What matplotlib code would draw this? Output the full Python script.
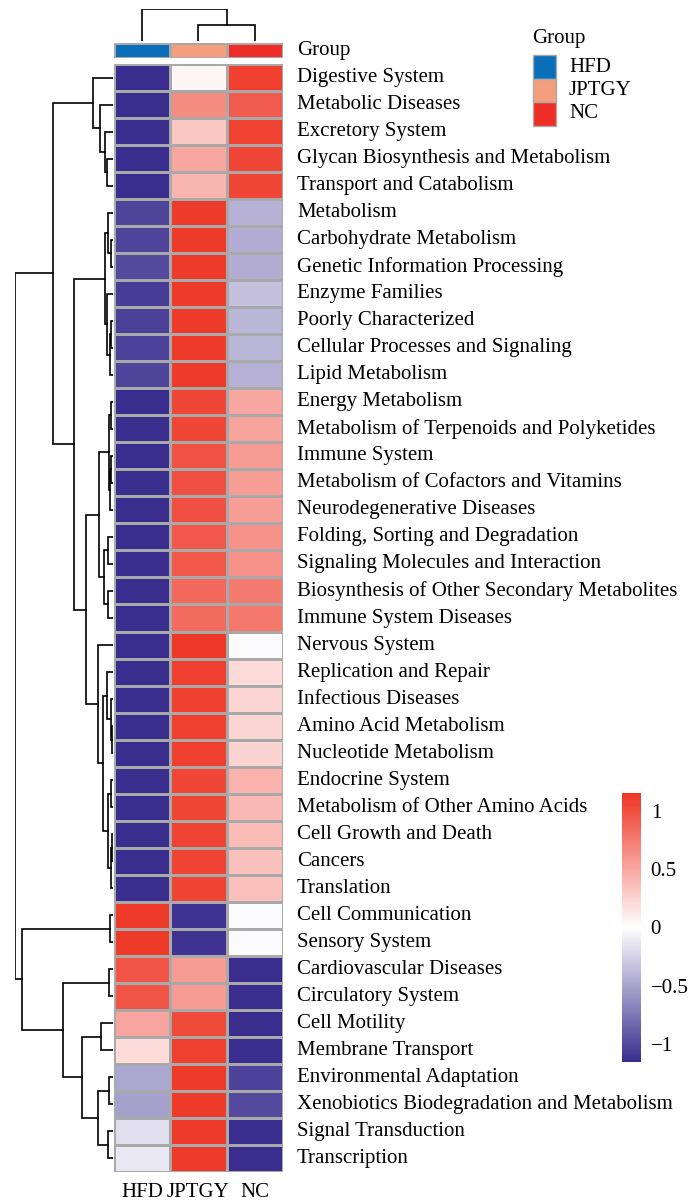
import matplotlib
matplotlib.use("Agg")
import matplotlib.pyplot as plt
import numpy as np
from matplotlib.colors import LinearSegmentedColormap, ListedColormap
from matplotlib.patches import Rectangle

plt.rcParams['font.family'] = ['Liberation Serif', 'DejaVu Serif']

groups = ["HFD", "JPTGY", "NC"]
group_colors = ["#0a6fb8", "#f59e7e", "#ee2e26"]

pathways = [
    "Digestive System", "Metabolic Diseases", "Excretory System",
    "Glycan Biosynthesis and Metabolism", "Transport and Catabolism",
    "Metabolism", "Carbohydrate Metabolism", "Genetic Information Processing",
    "Enzyme Families", "Poorly Characterized", "Cellular Processes and Signaling",
    "Lipid Metabolism", "Energy Metabolism", "Metabolism of Terpenoids and Polyketides",
    "Immune System", "Metabolism of Cofactors and Vitamins", "Neurodegenerative Diseases",
    "Folding, Sorting and Degradation", "Signaling Molecules and Interaction",
    "Biosynthesis of Other Secondary Metabolites", "Immune System Diseases",
    "Nervous System", "Replication and Repair", "Infectious Diseases",
    "Amino Acid Metabolism", "Nucleotide Metabolism", "Endocrine System",
    "Metabolism of Other Amino Acids", "Cell Growth and Death", "Cancers",
    "Translation", "Cell Communication", "Sensory System", "Cardiovascular Diseases",
    "Circulatory System", "Cell Motility", "Membrane Transport",
    "Environmental Adaptation", "Xenobiotics Biodegradation and Metabolism",
    "Signal Transduction", "Transcription",
]

hfd = [-1.15, -1.15, -1.15, -1.15, -1.15, -1.02, -1.02, -1.0, -1.06, -1.05, -1.04,
       -1.02, -1.15, -1.15, -1.15, -1.15, -1.15, -1.15, -1.15, -1.15, -1.15,
       -1.15, -1.15, -1.15, -1.15, -1.15, -1.15, -1.15, -1.15, -1.15, -1.15,
       1.12, 1.12, 0.97, 0.97, 0.51, 0.2, -0.48, -0.52, -0.18, -0.13]
jptgy = [0.05, 0.65, 0.32, 0.5, 0.42, 1.12, 1.12, 1.12, 1.12, 1.12, 1.12,
         1.12, 1.05, 1.05, 0.99, 1.0, 1.0, 0.95, 0.95, 0.86, 0.84,
         1.13, 1.1, 1.1, 1.1, 1.1, 1.05, 1.06, 1.07, 1.07, 1.07,
         -1.12, -1.12, 0.56, 0.56, 1.03, 1.1, 1.12, 1.12, 1.12, 1.12]
nc = [1.1, 0.93, 1.08, 1.05, 1.05, -0.43, -0.45, -0.45, -0.35, -0.4, -0.4,
      -0.43, 0.5, 0.52, 0.56, 0.55, 0.55, 0.62, 0.62, 0.75, 0.77,
      -0.02, 0.2, 0.24, 0.24, 0.25, 0.44, 0.4, 0.38, 0.36, 0.36,
      -0.02, -0.02, -1.15, -1.15, -1.15, -1.15, -1.03, -1.0, -1.15, -1.15]

# row tree: (left, right, height); leaves are row indices
rows_1_5 = (0, (1, (2, (3, 4, 6), 8), 13), 20)
rows_6_12 = ((5, (6, 7, 2), 5), (8, ((9, 10, 2), 11, 3), 6), 8)
rows_13_21 = (((12, 13, 2), ((14, 15, 2), 16, 3), 4), ((17, 18, 5), (19, 20, 5), 9), 14)
rows_22_31 = (21, ((22, (23, (24, 25, 1), 2), 6), ((26, 27, 2), ((28, 29, 1), 30, 2), 5), 10), 15)
rows_32_41 = ((31, 32, 3), ((33, 34, 4), ((35, 36, 12), ((37, 38, 4), (39, 40, 5), 15), 31), 50), 91)
row_tree = ((rows_1_5, (rows_6_12, (rows_13_21, rows_22_31, 27), 39), 60), rows_32_41, 98)
col_tree = (0, (1, 2, 16), 32)

W, H = 688, 1202
fig = plt.figure(figsize=(W / 100, H / 100), dpi=100)
FS = 15


def px_axes(x0, y0, x1, y1):
    return fig.add_axes([x0 / W, 1 - y1 / H, (x1 - x0) / W, (y1 - y0) / H])


cmap = LinearSegmentedColormap.from_list("bwr2", ["#3a2d8e", "#ffffff", "#ee3524"])
vlim = 1.155
data = np.array([hfd, jptgy, nc]).T
n = len(pathways)

# heatmap
ax = px_axes(114, 64, 283, 1172)
mesh = ax.pcolormesh(data, cmap=cmap, vmin=-vlim, vmax=vlim,
                     edgecolors="#a9a9a9", linewidth=1)
ax.set_xlim(0, 3)
ax.set_ylim(n, 0)
ax.axis("off")
for i, name in enumerate(pathways):
    ax.text(3.0 + 14 / 56.3, i + 0.5, name, va="center", ha="left", fontsize=FS)
for j, g in enumerate(groups):
    ax.text(j + 0.5, n + 0.75, g, ha="center", va="center", fontsize=FS)

# group annotation bar
axg = px_axes(114, 43, 283, 58)
axg.pcolormesh(np.arange(3)[None, :], cmap=ListedColormap(group_colors),
               vmin=-0.5, vmax=2.5, edgecolors="#a9a9a9", linewidth=1)
axg.set_xlim(0, 3)
axg.axis("off")
axg.text(3.0 + 14 / 56.3, 0.5, "Group", va="center", ha="left", fontsize=FS)


def draw_tree(node, axd, orient):
    # returns (position, height)
    if isinstance(node, int):
        return node + 0.5, 0
    left, right, h = node
    p1, h1 = draw_tree(left, axd, orient)
    p2, h2 = draw_tree(right, axd, orient)
    if orient == "left":
        axd.plot([h1, h, h, h2], [p1, p1, p2, p2], color="black", lw=1.2,
                 solid_joinstyle="miter")
    else:
        axd.plot([p1, p1, p2, p2], [h1, h, h, h2], color="black", lw=1.2,
                 solid_joinstyle="miter")
    return (p1 + p2) / 2, h


axl = px_axes(15, 64, 113, 1172)
draw_tree(row_tree, axl, "left")
axl.set_xlim(98, 0)
axl.set_ylim(n, 0)
axl.axis("off")

axt = px_axes(114, 9, 283, 41)
draw_tree(col_tree, axt, "top")
axt.set_xlim(0, 3)
axt.set_ylim(0, 32)
axt.axis("off")

# legend
axleg = px_axes(520, 20, 688, 130)
axleg.set_xlim(520, 688)
axleg.set_ylim(130, 20)
axleg.axis("off")
axleg.text(532, 39, "Group", ha="left", va="center", fontsize=FS)
for k, (g, c) in enumerate(zip(groups, group_colors)):
    y0 = 55 + k * 23.5
    axleg.add_patch(Rectangle((533, y0), 23, 23.5, facecolor=c,
                              edgecolor="#a9a9a9", lw=1))
    axleg.text(569, y0 + 12, g, ha="left", va="center", fontsize=FS)

# colorbar
cax = px_axes(622, 793, 641, 1062)
cb = fig.colorbar(mesh, cax=cax)
cb.outline.set_visible(False)
cb.set_ticks([1, 0.5, 0, -0.5, -1])
cb.set_ticklabels(["1", "0.5", "0", "\u22120.5", "\u22121"])
cax.tick_params(length=0, labelsize=FS, pad=7)

fig.savefig("out.png", dpi=100)
